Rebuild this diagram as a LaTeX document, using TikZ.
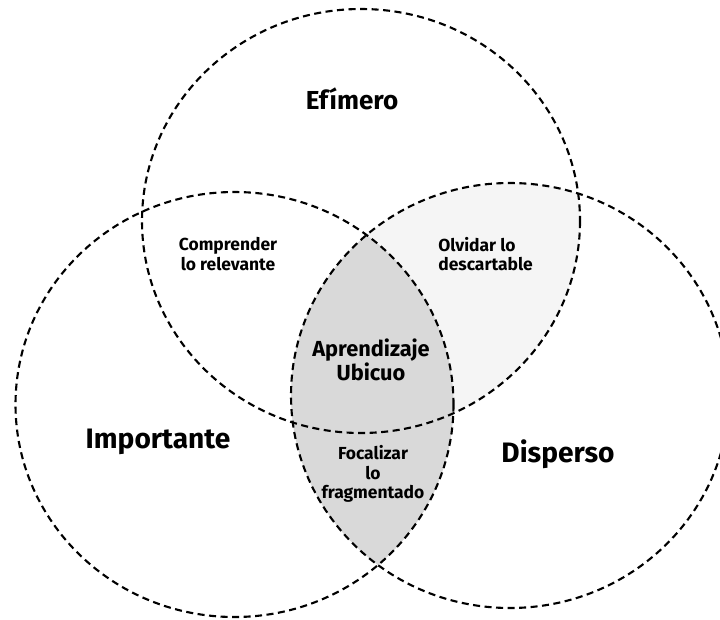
\documentclass[tikz,border=0pt]{standalone}
\usepackage{fontspec}
\setmainfont{Fira Sans}
\definecolor{gris}{HTML}{D9D9D9}
\definecolor{grisclaro}{HTML}{F5F5F5}

\begin{document}
\begin{tikzpicture}[x=0.025cm,y=-0.025cm,
		circulo/.style={line width=1.5pt, dash pattern=on 5pt off 3.2pt},
		titulo/.style={font=\bfseries\fontsize{20}{22}\selectfont, inner sep=0pt},
		zona/.style={font=\bfseries\fontsize{12.4}{14}\selectfont, inner sep=0pt}]
	\useasboundingbox (0,0) rectangle (720,619);

	\begin{scope}
		\clip (361,221) ellipse [x radius=219, y radius=212];
		\fill[grisclaro] (510,395.5) ellipse [x radius=219, y radius=212.5];
	\end{scope}
	\begin{scope}
		\clip (234.5,404.5) ellipse [x radius=219, y radius=212.5];
		\fill[gris] (510,395.5) ellipse [x radius=219, y radius=212.5];
	\end{scope}

	\draw[circulo] (361,221) ellipse [x radius=219, y radius=212];
	\draw[circulo] (234.5,404.5) ellipse [x radius=219, y radius=212.5];
	\draw[circulo] (510,395.5) ellipse [x radius=219, y radius=212.5];

	\node[titulo, anchor=base, font=\bfseries\fontsize{18.5}{20}\selectfont] (efimero) at (352,109) {Efímero};
	\node[titulo, anchor=base] (importante) at (158,448) {Importante};
	\node[titulo, anchor=base] (disperso) at (558,462) {Disperso};

	\node[zona, align=center] (comprender) at (228,254) {Comprender\\lo relevante};
	\node[zona, align=left, anchor=west] (olvidar) at (438,254) {Olvidar lo\\descartable};
	\node[zona, align=center, font=\bfseries\fontsize{15.5}{15.6}\selectfont] (aprendizaje) at (371,360)
		{Aprendizaje\\Ubicuo};
	\node[zona, align=center, font=\bfseries\fontsize{12.4}{13.8}\selectfont] (focalizar) at (373,474)
		{Focalizar\\lo\\fragmentado};
\end{tikzpicture}
\end{document}
